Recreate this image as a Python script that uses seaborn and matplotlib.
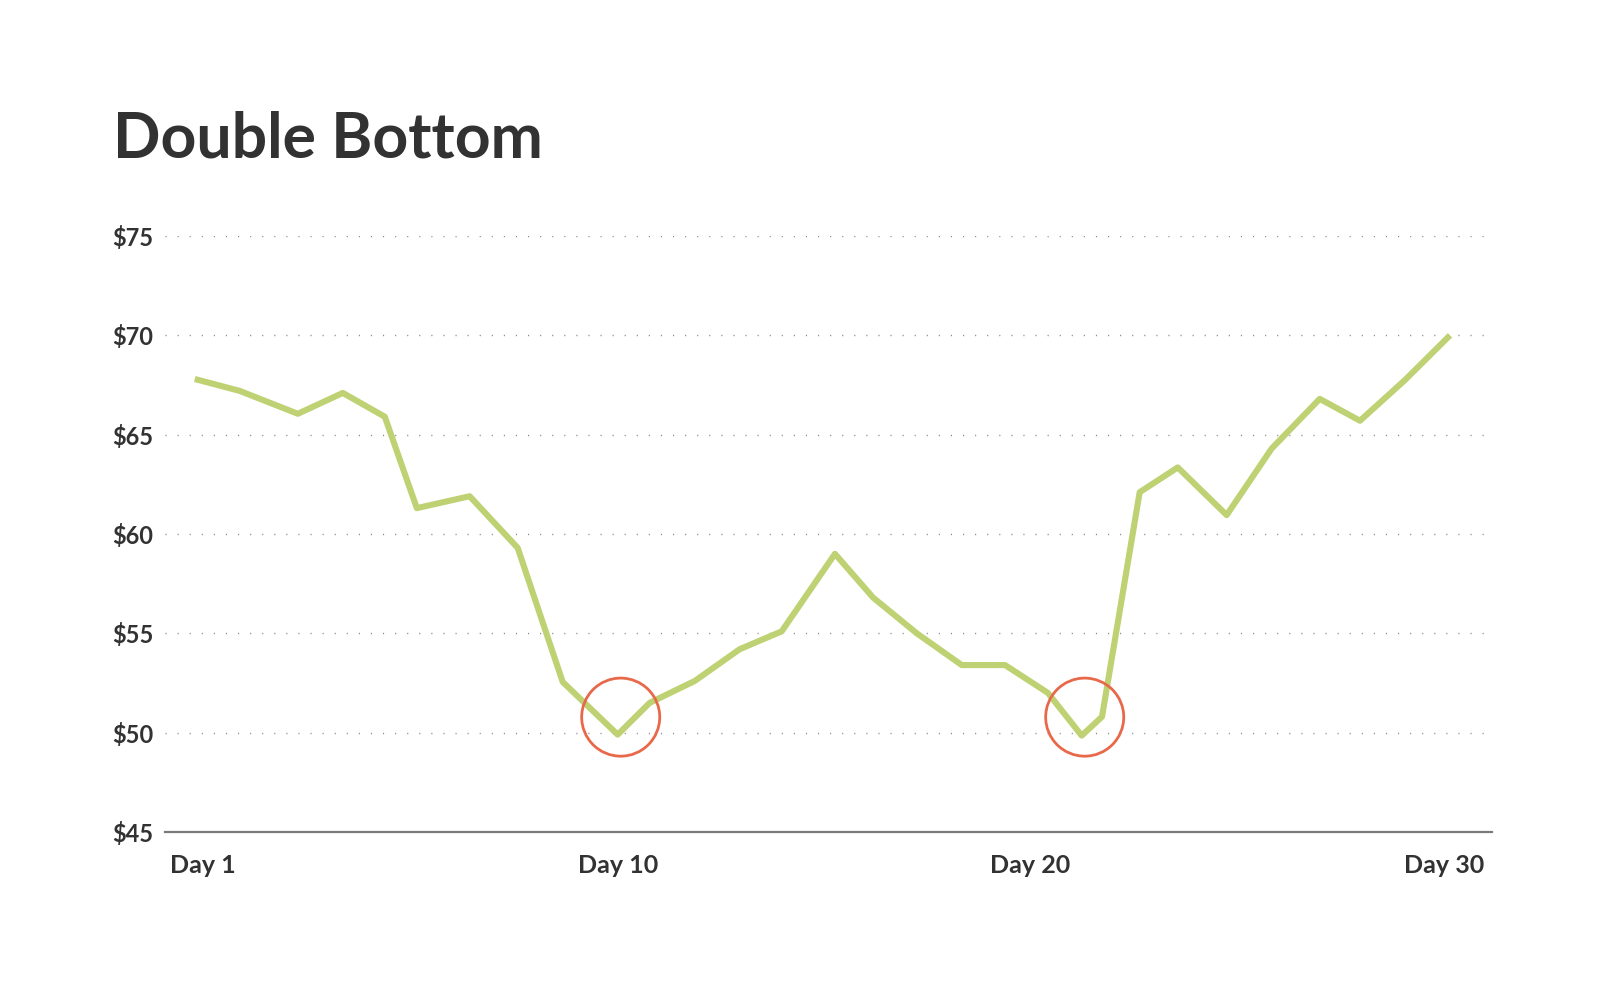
import seaborn as sns
import matplotlib.pyplot as plt
import pandas as pd

# price path (day position is fractional, as drawn)
days = [1.00, 2.04, 3.38, 4.42, 5.39, 6.13, 7.35, 8.46, 9.50, 10.77,
        11.51, 12.55, 13.59, 14.56, 15.79, 16.67, 17.68, 18.72, 19.72, 20.71,
        21.49, 21.96, 22.83, 23.71, 24.84, 25.88, 26.99, 27.92, 28.96, 30.00]
prices = [67.8, 67.2, 66.05, 67.1, 65.9, 61.3, 61.9, 59.3, 52.55, 49.9,
          51.5, 52.6, 54.2, 55.1, 59.0, 56.8, 55.0, 53.4, 53.4, 52.0,
          49.85, 50.8, 62.1, 63.35, 60.95, 64.3, 66.8, 65.7, 67.75, 70.0]

# the two bottoms that are circled
bottom_days = [10.84, 21.56]
bottom_prices = [50.78, 50.78]

x_tick_pos = [1.18, 10.77, 20.29, 29.86]
x_tick_labels = ["Day 1", "Day 10", "Day 20", "Day 30"]
y_ticks = [45, 50, 55, 60, 65, 70, 75]
y_tick_labels = ["$45", "$50", "$55", "$60", "$65", "$70", "$75"]

GREEN = "#BED173"
RED = "#E8694A"
TEXT = "#323232"

sns.set_theme(style="white")
plt.rcParams["font.family"] = ["Lato", "DejaVu Sans"]

df = pd.DataFrame({"day": days, "price": prices})
marks = pd.DataFrame({"day": bottom_days, "price": bottom_prices})

fig = plt.figure(figsize=(16, 10.02), dpi=100)
ax = fig.add_axes([0.103, 0.1697, 0.8295, 0.5948])

sns.lineplot(data=df, x="day", y="price", color=GREEN, linewidth=4.4,
             solid_joinstyle="round", solid_capstyle="butt", ax=ax, zorder=3)
sns.scatterplot(data=marks, x="day", y="price", s=3160, color=RED,
                facecolor="none", edgecolor=RED, linewidth=2.0, ax=ax, zorder=4)

ax.set_xlim(0.307, 30.97)
ax.set_ylim(45, 75)
ax.set_xticks(x_tick_pos)
ax.set_xticklabels(x_tick_labels)
ax.set_yticks(y_ticks)
ax.set_yticklabels(y_tick_labels)
ax.set_xlabel("")
ax.set_ylabel("")

ax.grid(axis="y", color="#8a8a8a", linestyle=(0, (0.8, 7.9)), linewidth=1.0)
ax.grid(axis="x", visible=False)

for side in ["top", "right", "left"]:
    ax.spines[side].set_visible(False)
ax.spines["bottom"].set_color("#7a7a7a")
ax.spines["bottom"].set_linewidth(1.6)

ax.tick_params(axis="x", length=0, pad=16, labelsize=18, labelcolor=TEXT)
ax.tick_params(axis="y", length=0, pad=8, labelsize=17, labelcolor=TEXT)
for lab in ax.get_xticklabels() + ax.get_yticklabels():
    lab.set_fontweight("bold")

fig.text(113 / 1600, 1 - 157 / 1002, "Double Bottom", fontsize=45,
         fontweight="bold", color=TEXT, ha="left", va="baseline")

fig.savefig("out.png", dpi=100, facecolor="white")
